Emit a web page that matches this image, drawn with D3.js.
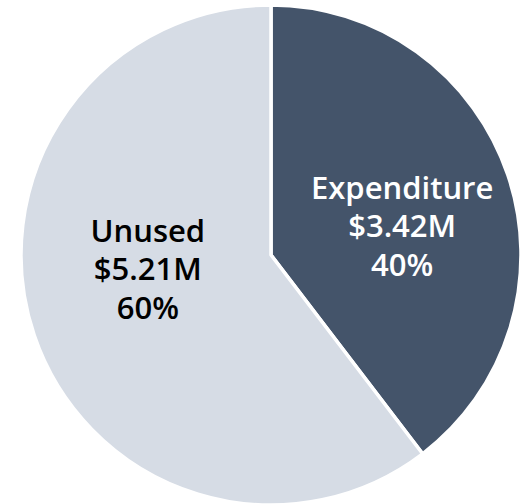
<!DOCTYPE html>
<html>
<head>
<meta charset="utf-8">
<script src="https://cdn.jsdelivr.net/npm/d3@7"></script>
<style>
  html, body { margin: 0; padding: 0; background: #fff; }
</style>
</head>
<body>
<div id="chart"></div>
<script>
// data
const categories = ["Expenditure", "Unused"];
const amounts = [3.42, 5.21];
const percentLabels = ["40%", "60%"];

const w = 526, h = 504;
const cx = 271, cy = 255, radius = 250;

const color = d3.scaleOrdinal()
    .domain(categories)
    .range(["#44546a", "#d6dce5"]);
const textColor = d3.scaleOrdinal()
    .domain(categories)
    .range(["#ffffff", "#000000"]);

// nudges so the labels sit where the original put them
const nudge = { Expenditure: [8, 13], Unused: [0, -27] };

const dataset = categories.map((c, i) => ({ name: c, value: amounts[i], pct: percentLabels[i] }));

const pie = d3.pie().value(d => d.value).sort(null);
const arc = d3.arc().innerRadius(0).outerRadius(radius);
const labelArc = d3.arc().innerRadius(radius * 0.52).outerRadius(radius * 0.52);

const svg = d3.select("#chart")
    .append("svg")
    .attr("width", w)
    .attr("height", h);

const g = svg.append("g").attr("transform", `translate(${cx}, ${cy})`);

const slices = g.selectAll(".slice")
    .data(pie(dataset))
    .enter()
    .append("g")
    .attr("class", "slice");

slices.append("path")
    .attr("d", arc)
    .attr("fill", d => color(d.data.name))
    .attr("stroke", "#fff")
    .attr("stroke-width", 3.5)
    .attr("stroke-linejoin", "round");

const labels = slices.append("text")
    .attr("transform", d => {
        const [x, y] = labelArc.centroid(d);
        const n = nudge[d.data.name];
        return `translate(${x + n[0]}, ${y + n[1]})`;
    })
    .attr("text-anchor", "middle")
    .attr("font-family", "'Open Sans', sans-serif")
    .attr("font-weight", 600)
    .attr("font-size", "31px")
    .attr("fill", d => textColor(d.data.name));

labels.each(function(d) {
    const lines = [d.data.name, "$" + d.data.value.toFixed(2) + "M", d.data.pct];
    const t = d3.select(this);
    lines.forEach((l, i) => {
        t.append("tspan")
            .attr("x", 0)
            .attr("y", (i - 1) * 38.5)
            .attr("dy", "0.35em")
            .text(l);
    });
});
</script>
</body>
</html>
